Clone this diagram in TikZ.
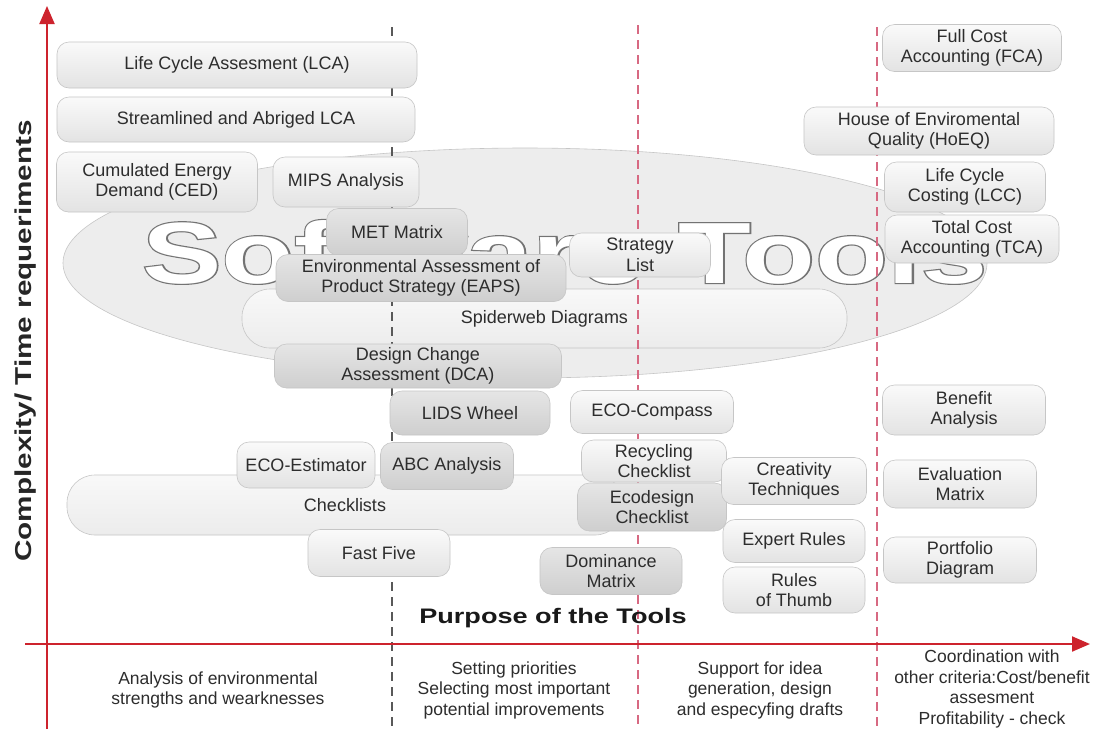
\documentclass[tikz,border=0pt]{standalone}
\usepackage{fontspec}
\setmainfont{Liberation Sans}
\newfontface\swgray{Liberation Sans Bold}[FakeBold=2.6]
\newfontface\swplain{Liberation Sans Bold}
\usepackage{graphicx}
\usetikzlibrary{arrows.meta}
\definecolor{axisred}{RGB}{205,35,45}
\definecolor{dashpink}{RGB}{215,105,130}
\definecolor{txt}{RGB}{45,45,45}
\definecolor{outl}{RGB}{115,115,115}
\newcommand{\boxfont}{\fontsize{18}{20.5}\selectfont}
\newcommand{\botfont}{\fontsize{17.5}{20.5}\selectfont}
\tikzset{
  lbox/.style={draw=gray!45, line width=0.6pt, rounded corners=12pt,
    top color=gray!4, bottom color=gray!22, text=txt, align=center,
    font=\boxfont, inner sep=0pt},
  dbox/.style={lbox, top color=gray!20, bottom color=gray!38},
  pill/.style={draw=gray!45, line width=0.6pt, rounded corners=28pt,
    top color=gray!5, bottom color=gray!15, text=txt, font=\boxfont, inner sep=0pt},
  divline/.style={dash pattern=on 9pt off 6pt, line width=1.6pt},
  axisarrow/.style={draw=axisred, line width=2pt,
    -{Triangle[length=18pt,width=15pt,fill=axisred]}},
  botlab/.style={align=center, font=\botfont, text=txt, inner sep=0pt},
}
\begin{document}
\begin{tikzpicture}[x=1pt,y=-1pt]
\useasboundingbox (0,0) rectangle (1102,729);
\fill[white] (0,0) rectangle (1102,729);

% big ellipse
\draw[fill=gray!14, draw=gray!45, line width=0.6pt] (525,263) ellipse [x radius=462, y radius=115];

% outlined "Software Tools"
\node[anchor=base west, inner sep=0pt, text=outl] (swshadow) at (142,283)
  {\resizebox{845pt}{63pt}{\fontsize{88}{90}\swgray Software Tools}};
\node[anchor=base west, inner sep=0pt, text=white] (swtools) at (142,283)
  {\resizebox{845pt}{63pt}{\fontsize{88}{90}\swplain Software Tools}};

% spiderweb pill
\node[pill, minimum width=605pt, minimum height=59pt] (spider) at (544.5,318.5) {Spiderweb Diagrams};

% dashed dividers
\coordinate (d1t) at (392,27);  \coordinate (d1b) at (392,729);
\coordinate (d2t) at (638,25);  \coordinate (d2b) at (638,729);
\coordinate (d3t) at (877,27);  \coordinate (d3b) at (877,729);
\draw[divline, draw=black!65] (d1t) -- (d1b);
\draw[divline, draw=dashpink] (d2t) -- (d2b);
\draw[divline, draw=dashpink] (d3t) -- (d3b);

% checklists pill
\node[pill, minimum width=556pt, minimum height=60pt] (checkl) at (345,505) {Checklists};

% boxes, first column
\node[lbox, minimum width=360pt, minimum height=46pt] (lca) at (237,65) {Life Cycle Assesment (LCA)};
\node[lbox, minimum width=358pt, minimum height=45pt] (sla) at (236,119.5) {Streamlined and Abriged LCA};
\node[lbox, minimum width=201pt, minimum height=60pt] (ced) at (157,182) {Cumulated Energy\\Demand (CED)};
\node[lbox, minimum width=146pt, minimum height=50pt] (mips) at (346,182) {MIPS Analysis};
\node[dbox, minimum width=141pt, minimum height=47pt] (met) at (397,232) {MET Matrix};
\node[dbox, minimum width=290pt, minimum height=47pt] (eaps) at (421,278) {Environmental Assessment of\\Product Strategy (EAPS)};
\node[lbox, minimum width=141pt, minimum height=44pt] (strat) at (640,255) {Strategy\\List};
\node[dbox, minimum width=287pt, minimum height=44pt] (dca) at (418,366) {Design Change\\Assessment (DCA)};
\node[dbox, minimum width=160pt, minimum height=44pt] (lids) at (470,413) {LIDS Wheel};
\node[lbox, minimum width=163pt, minimum height=43pt] (ecoc) at (652,412) {ECO-Compass};
\node[lbox, minimum width=145pt, minimum height=42pt] (recyc) at (654,461) {Recycling\\Checklist};
\node[dbox, minimum width=149pt, minimum height=48pt] (ecod) at (652,507) {Ecodesign\\Checklist};
\node[lbox, minimum width=138pt, minimum height=46pt] (ecoe) at (306,465) {ECO-Estimator};
\node[dbox, minimum width=133pt, minimum height=47pt] (abc) at (447,466) {ABC Analysis};
\node[lbox, minimum width=142pt, minimum height=47pt] (fast) at (379,553) {Fast Five};
\node[dbox, minimum width=142pt, minimum height=47pt] (domin) at (611,571) {Dominance\\Matrix};
\node[lbox, minimum width=145pt, minimum height=47pt] (creat) at (794,481) {Creativity\\Techniques};
\node[lbox, minimum width=142pt, minimum height=43pt] (expert) at (794,541) {Expert Rules};
\node[lbox, minimum width=142pt, minimum height=46pt] (rules) at (794,590) {Rules\\of Thumb};

% right column
\node[lbox, minimum width=179pt, minimum height=47pt] (fca) at (972,48) {Full Cost\\Accounting (FCA)};
\node[lbox, minimum width=250pt, minimum height=48pt] (hoeq) at (929,131) {House of Enviromental\\Quality (HoEQ)};
\node[lbox, minimum width=161pt, minimum height=50pt] (lcc) at (965,187) {Life Cycle\\Costing (LCC)};
\node[lbox, minimum width=174pt, minimum height=48pt] (tca) at (972,239) {Total Cost\\Accounting (TCA)};
\node[lbox, minimum width=163pt, minimum height=50pt] (benef) at (964,410) {Benefit\\Analysis};
\node[lbox, minimum width=153pt, minimum height=48pt] (evalm) at (960,484) {Evaluation\\Matrix};
\node[lbox, minimum width=153pt, minimum height=46pt] (portf) at (960,560) {Portfolio\\Diagram};

% axes
\coordinate (yb) at (47,729); \coordinate (yt) at (47,6);
\coordinate (xl) at (25,644); \coordinate (xr) at (1090,644);
\draw[axisarrow] (yb) -- (yt);
\draw[axisarrow] (xl) -- (xr);

% axis labels
\node[rotate=90, inner sep=0pt, text=black!85, font=\fontsize{23}{26}\selectfont\bfseries] (ylab) at (26,341)
  {\scalebox{1.29}[1]{Complexity/ Time requeriments}};
\node[inner sep=0pt, text=black!90, font=\fontsize{21}{24}\selectfont\bfseries] (purp) at (553,618)
  {\scalebox{1.29}[1]{Purpose of the Tools}};

% bottom labels
\node[botlab] (b1) at (218,690) {Analysis of environmental\\strengths and wearknesses};
\node[botlab] (b2) at (514,690) {Setting priorities\\Selecting most important\\potential improvements};
\node[botlab] (b3) at (760,690) {Support for idea\\generation, design\\and especyfing drafts};
\node[botlab] (b4) at (992,689) {Coordination with\\other criteria:Cost/benefit\\assesment\\Profitability - check};
\end{tikzpicture}
\end{document}
